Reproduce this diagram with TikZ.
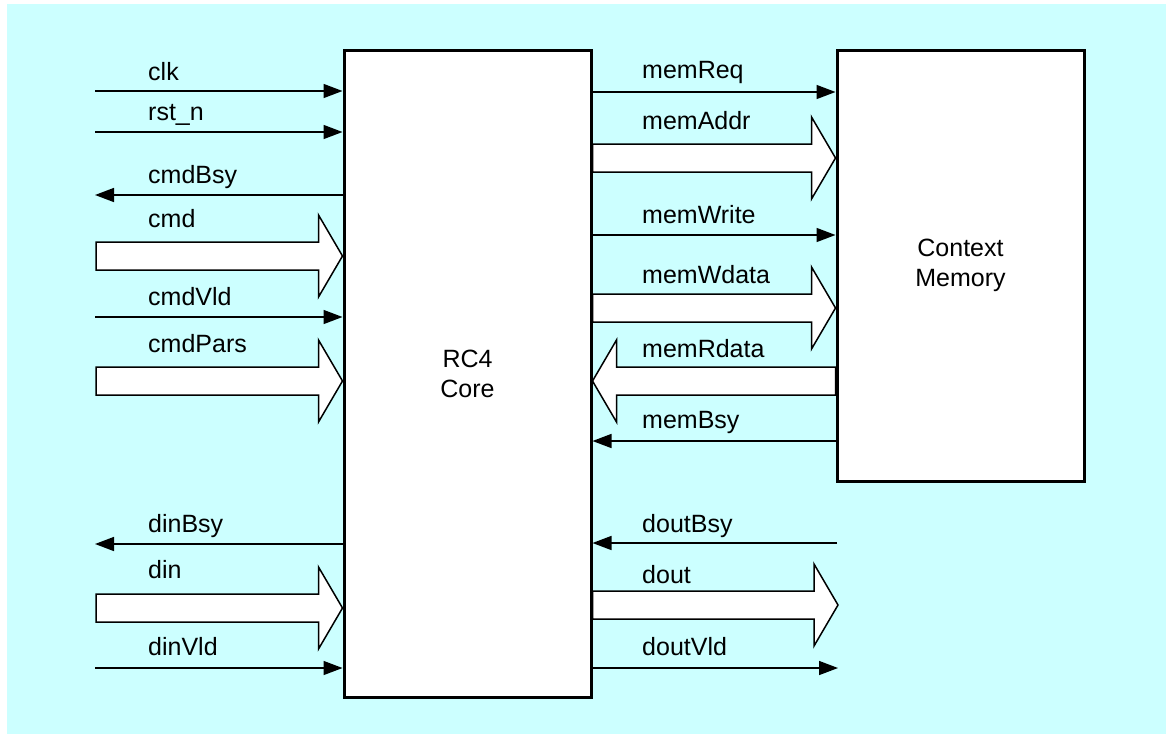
\documentclass[tikz,border=0pt]{standalone}
\usepackage{fontspec}
\setmainfont{Liberation Sans}
\usetikzlibrary{arrows.meta,calc}
\definecolor{bg}{HTML}{CCFFFF}
\tikzset{
  box/.style={draw,line width=3pt,fill=white,inner sep=0pt,align=center,font=\fontsize{25}{30}\selectfont},
  sig/.style={line width=1.5pt,-{Triangle[length=19pt,width=14pt]}},
  bus/.style={draw,fill=white,line width=1.5pt,line join=miter},
  lbl/.style={anchor=base west,inner sep=0pt,font=\fontsize{25}{30}\selectfont},
}
% bus arrow pointing right: #1 start, #2 tip
\newcommand\busRight[2]{%
  \draw[bus] let \p1=(#1), \p2=(#2) in
    (\x1,\y1+14pt) -- (\x2-24pt,\y1+14pt) -- (\x2-24pt,\y1+41pt) -- (\x2,\y1)
    -- (\x2-24pt,\y1-41pt) -- (\x2-24pt,\y1-14pt) -- (\x1,\y1-14pt) -- cycle;}
% bus arrow pointing left: #1 start (right end), #2 tip
\newcommand\busLeft[2]{%
  \draw[bus] let \p1=(#1), \p2=(#2) in
    (\x1,\y1+14pt) -- (\x2+24pt,\y1+14pt) -- (\x2+24pt,\y1+41pt) -- (\x2,\y1)
    -- (\x2+24pt,\y1-41pt) -- (\x2+24pt,\y1-14pt) -- (\x1,\y1-14pt) -- cycle;}
\begin{document}
\begin{tikzpicture}[x=1pt,y=-1pt]
\useasboundingbox (0,0) rectangle (1166,734);
\fill[white] (0,0) rectangle (1166,734);
\fill[bg] (7,4) rectangle (1166,734);

\node[box,minimum width=247pt,minimum height=647pt] (core) at (467.5,373.5) {RC4\\Core};
\node[box,minimum width=247pt,minimum height=431pt] (mem) at (960.5,265.5) {Context\\Memory};

% left side
\coordinate (clkS) at (95,91);
\coordinate (rstS) at (95,132);
\coordinate (cmdBsyE) at (95,195);
\coordinate (cmdS) at (96,256);
\coordinate (cmdVldS) at (95,317);
\coordinate (cmdParsS) at (96,381);
\coordinate (dinBsyE) at (95,544);
\coordinate (dinS) at (96,608);
\coordinate (dinVldS) at (95,668);

\draw[sig] (clkS) -- (clkS -| core.west);
\draw[sig] (rstS) -- (rstS -| core.west);
\draw[sig] (cmdBsyE -| core.west) -- (cmdBsyE);
\busRight{cmdS}{cmdS -| core.west}
\draw[sig] (cmdVldS) -- (cmdVldS -| core.west);
\busRight{cmdParsS}{cmdParsS -| core.west}
\draw[sig] (dinBsyE -| core.west) -- (dinBsyE);
\busRight{dinS}{dinS -| core.west}
\draw[sig] (dinVldS) -- (dinVldS -| core.west);

\node[lbl] (lclk) at (148,80) {clk};
\node[lbl] (lrst) at (148,120) {rst\_n};
\node[lbl] (lcmdBsy) at (148,183) {cmdBsy};
\node[lbl] (lcmd) at (148,227) {cmd};
\node[lbl] (lcmdVld) at (148,305) {cmdVld};
\node[lbl] (lcmdPars) at (148,352) {cmdPars};
\node[lbl] (ldinBsy) at (148,532) {dinBsy};
\node[lbl] (ldin) at (148,578) {din};
\node[lbl] (ldinVld) at (148,655) {dinVld};

% right side
\coordinate (memReqY) at (0,92);
\coordinate (memAddrY) at (0,158);
\coordinate (memWriteY) at (0,235);
\coordinate (memWdataY) at (0,308);
\coordinate (memRdataY) at (0,381);
\coordinate (memBsyY) at (0,441);
\coordinate (doutBsyS) at (837,543);
\coordinate (doutT) at (838,605);
\coordinate (doutVldT) at (838,668);

\draw[sig] (memReqY -| core.east) -- (memReqY -| mem.west);
\busRight{memAddrY -| core.east}{memAddrY -| mem.west}
\draw[sig] (memWriteY -| core.east) -- (memWriteY -| mem.west);
\busRight{memWdataY -| core.east}{memWdataY -| mem.west}
\busLeft{memRdataY -| mem.west}{memRdataY -| core.east}
\draw[sig] (memBsyY -| mem.west) -- (memBsyY -| core.east);
\draw[sig] (doutBsyS) -- (doutBsyS -| core.east);
\busRight{doutT -| core.east}{doutT}
\draw[sig] (doutVldT -| core.east) -- (doutVldT);

\node[lbl] (lmemReq) at (642,78) {memReq};
\node[lbl] (lmemAddr) at (642,129) {memAddr};
\node[lbl] (lmemWrite) at (642,223) {memWrite};
\node[lbl] (lmemWdata) at (642,283) {memWdata};
\node[lbl] (lmemRdata) at (642,357) {memRdata};
\node[lbl] (lmemBsy) at (642,428) {memBsy};
\node[lbl] (ldoutBsy) at (642,532) {doutBsy};
\node[lbl] (ldout) at (642,583) {dout};
\node[lbl] (ldoutVld) at (642,655) {doutVld};
\end{tikzpicture}
\end{document}
